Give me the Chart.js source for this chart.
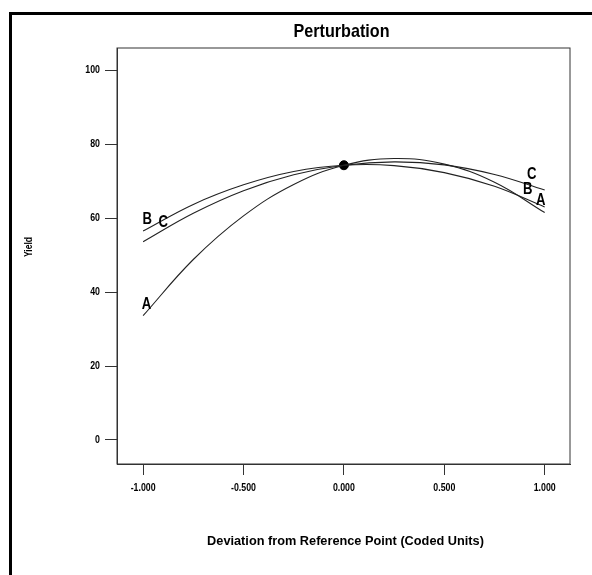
<!DOCTYPE html>
<html>
<head>
<meta charset="utf-8">
<script src="https://cdn.jsdelivr.net/npm/chart.js@4"></script>
<style>
  body { margin: 0; background: #fff; }
  canvas { display: block; }
</style>
</head>
<body>
<canvas id="myChart" width="592" height="575"></canvas>
<script>
// coded deviation from the reference point
const xCoded = [-1, -0.75, -0.5, -0.25, 0, 0.25, 0.5, 0.75, 1];
// yield along each factor's perturbation trace
const yieldA = [33.6, 48.8, 60.6, 69.1, 74.3, 76.1, 74.6, 69.7, 61.5];
const yieldB = [56.5, 63.7, 69.0, 72.6, 74.3, 74.2, 72.3, 68.6, 63.0];
const yieldC = [53.6, 61.3, 67.4, 71.7, 74.3, 75.2, 74.4, 71.8, 67.6];
const refPoint = [0, 74.3];
const xTicks = [-1, -0.5, 0, 0.5, 1];
const yTicks = [0, 20, 40, 60, 80, 100];
// letters at both ends of every trace
const curveLabels = [
  ['B', -0.98, 59.5], ['C', -0.90, 58.9], ['A', -0.983, 36.5],
  ['C', 0.935, 71.7], ['B', 0.915, 67.6], ['A', 0.98, 64.6]
];

const sans = "'Liberation Sans', Arial, sans-serif";
Chart.defaults.font.family = sans;
Chart.defaults.color = '#000';

function trace(values){
  return {
    data: xCoded.map((x, i) => ({x: x, y: values[i]})),
    borderColor: '#222',
    borderWidth: 1.1,
    pointRadius: 0,
    tension: 0.4,
    fill: false
  };
}

// arial-narrow look: squeeze the text sideways
function narrowText(c, text, x, y, font, align, squeeze){
  c.save();
  c.translate(x, y);
  c.scale(squeeze, 1);
  c.font = font;
  c.textAlign = align;
  c.textBaseline = 'middle';
  c.fillText(text, 0, 0);
  c.restore();
}

const framePlugin = {
  id: 'framePlugin',
  beforeDraw(chart){
    const c = chart.ctx;
    c.save();
    c.fillStyle = '#fff';
    c.fillRect(0, 0, chart.width, chart.height);
    c.fillStyle = '#000';
    c.fillRect(9, 12, 3, chart.height - 12);
    c.fillRect(9, 12, chart.width - 9, 3);
    c.restore();
  },
  afterDraw(chart){
    const c = chart.ctx;
    const a = chart.chartArea;
    const xs = chart.scales.x, ys = chart.scales.y;
    c.save();
    c.strokeStyle = '#333';
    c.lineWidth = 1;
    c.strokeRect(a.left, a.top, a.right - a.left, a.bottom - a.top);
    c.fillStyle = '#000';

    const midX = (a.left + a.right) / 2;
    narrowText(c, 'Perturbation', midX - 2, 32, 'bold 19px ' + sans, 'center', 0.85);
    narrowText(c, 'Deviation from Reference Point (Coded Units)', midX + 2, 541, 'bold 13px ' + sans, 'center', 0.98);

    c.save();
    c.translate(28.5, 247);
    c.rotate(-Math.PI / 2);
    narrowText(c, 'Yield', 0, 0, 'bold 11px ' + sans, 'center', 0.78);
    c.restore();

    xs.ticks.forEach(t => {
      narrowText(c, t.value.toFixed(3), xs.getPixelForValue(t.value), 488, 'bold 11px ' + sans, 'center', 0.8);
    });
    ys.ticks.forEach(t => {
      narrowText(c, String(t.value), 100, ys.getPixelForValue(t.value), 'bold 11px ' + sans, 'right', 0.8);
    });

    curveLabels.forEach(l => {
      narrowText(c, l[0], xs.getPixelForValue(l[1]), ys.getPixelForValue(l[2]), 'bold 16px ' + sans, 'center', 0.82);
    });
    c.restore();
  }
};

const ctx = document.getElementById('myChart');
const myChart = new Chart(ctx, {
  type: 'line',
  data: {
    datasets: [
      trace(yieldA),
      trace(yieldB),
      trace(yieldC),
      {
        type: 'scatter',
        data: [{x: refPoint[0], y: refPoint[1]}],
        backgroundColor: '#000',
        borderColor: '#000',
        pointRadius: 4.5,
        showLine: false
      }
    ]
  },
  options: {
    responsive: false,
    animation: false,
    layout: { padding: { top: 48, right: 22, left: 0, bottom: 0 } },
    plugins: { legend: { display: false }, tooltip: { enabled: false } },
    scales: {
      x: {
        type: 'linear',
        min: -1.13,
        max: 1.126,
        afterFit(scale){ scale.height = 111; },
        afterBuildTicks(scale){ scale.ticks = xTicks.map(v => ({value: v})); },
        grid: { drawOnChartArea: false, tickLength: 11, color: '#333' },
        border: { display: true, color: '#333' },
        ticks: { display: false }
      },
      y: {
        type: 'linear',
        min: -6.5,
        max: 106,
        afterFit(scale){ scale.width = 117; },
        afterBuildTicks(scale){ scale.ticks = yTicks.map(v => ({value: v})); },
        grid: { drawOnChartArea: false, tickLength: 12, color: '#333' },
        border: { display: true, color: '#333' },
        ticks: { display: false }
      }
    }
  },
  plugins: [framePlugin]
});
</script>
</body>
</html>
